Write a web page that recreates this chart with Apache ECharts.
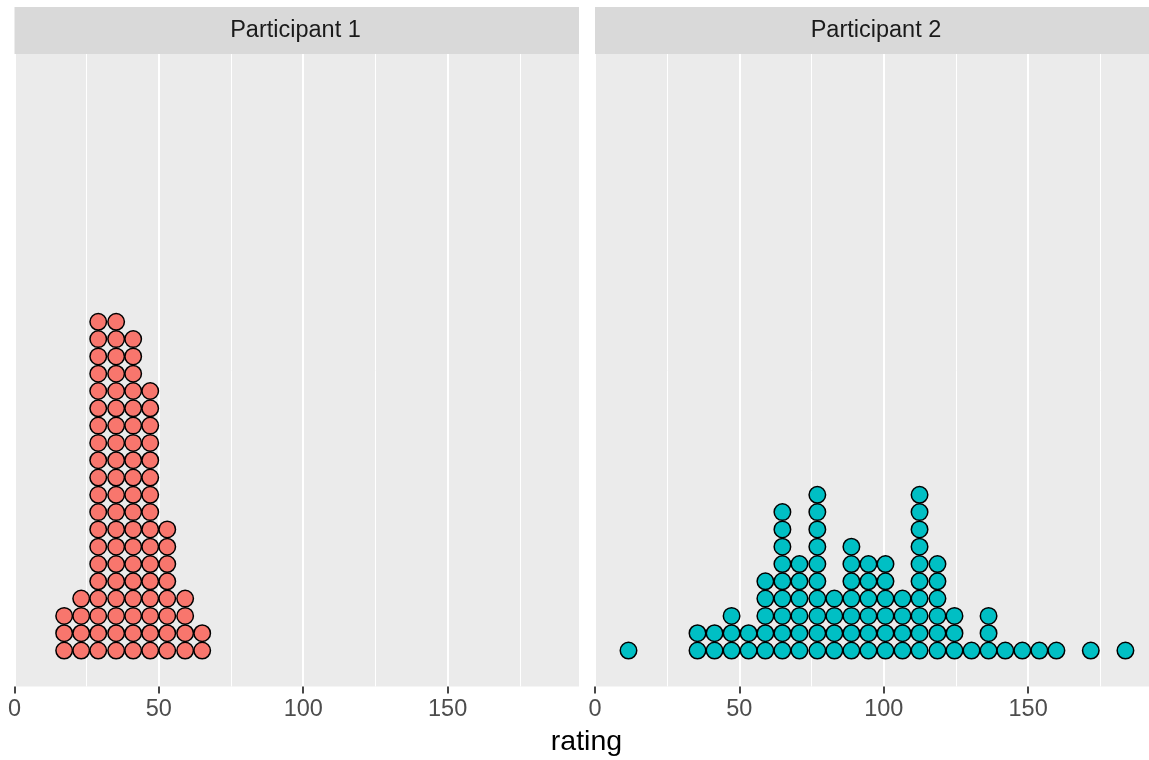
<!DOCTYPE html>
<html>
<head>
<meta charset="utf-8">
<script src="https://cdn.jsdelivr.net/npm/echarts@6/dist/echarts.min.js"></script>
<style>
  html, body { margin: 0; padding: 0; background: #fff; }
  #main { width: 1149px; height: 760px; }
</style>
</head>
<body>
<div id="main"></div>
<script>
    // bin centres (rating) and number of dots stacked in each bin
    var p1Centers = [17.2, 23.1, 29.0, 35.2, 41.1, 47.0, 52.9, 59.1, 65.0];
    var p1Counts  = [3, 4, 20, 20, 19, 16, 8, 4, 2];

    var p2Centers = [11.6, 35.5, 41.4, 47.3, 53.2, 59.0, 64.9, 70.8, 77.0, 82.9, 88.8, 94.7,
                     100.6, 106.5, 112.4, 118.6, 124.5, 130.4, 136.3, 142.1, 148.0, 153.9,
                     159.8, 171.7, 183.7];
    var p2Counts  = [1, 2, 2, 3, 2, 5, 9, 6, 10, 4, 7, 6,
                     6, 4, 10, 6, 3, 1, 3, 1, 1, 1,
                     1, 1, 1];

    var panelNames = ['Participant 1', 'Participant 2'];
    var tickValues = [0, 50, 100, 150];

    function stack(centers, counts) {
        var pts = [];
        for (var i = 0; i < centers.length; i++) {
            for (var k = 0; k < counts[i]; k++) {
                pts.push([centers[i], k]);
            }
        }
        return pts;
    }

    var panelW = 564.5;
    var lefts = [14.5, 595];
    var gridTop = 54, gridH = 632.5;

    function xAx(idx) {
        return {
            type: 'value', gridIndex: idx, min: 0, max: 195.5, interval: 50,
            axisLine: { show: false, onZero: false },
            axisTick: { show: true, length: 7, customValues: tickValues, lineStyle: { color: '#333333', width: 1.8 } },
            axisLabel: {
                color: '#4D4D4D', fontSize: 23.5, margin: 11, fontFamily: 'Liberation Sans',
                customValues: tickValues
            },
            splitLine: { show: true, lineStyle: { color: '#ffffff', width: 2 } },
            minorTick: { show: false, splitNumber: 2 },
            minorSplitLine: { show: true, lineStyle: { color: '#ffffff', width: 1 } }
        };
    }
    function yAx(idx) {
        return { type: 'value', gridIndex: idx, min: -2.08, max: 34.48, show: false };
    }
    function dots(idx, data, color) {
        return {
            type: 'scatter', xAxisIndex: idx, yAxisIndex: idx, data: data,
            symbol: 'circle', symbolSize: 16.5,
            itemStyle: { color: color, borderColor: '#000000', borderWidth: 1.5, opacity: 1 }
        };
    }

    var myChart = echarts.init(document.getElementById('main'));
    var option = {
        animation: false,
        backgroundColor: '#ffffff',
        textStyle: { fontFamily: 'Liberation Sans' },
        grid: [
            { left: lefts[0], top: gridTop, width: panelW, height: gridH, outerBoundsMode: 'none', show: true, backgroundColor: '#EBEBEB', borderWidth: 0 },
            { left: lefts[1], top: gridTop, width: panelW, height: gridH, outerBoundsMode: 'none', show: true, backgroundColor: '#EBEBEB', borderWidth: 0 }
        ],
        xAxis: [xAx(0), xAx(1)],
        yAxis: [yAx(0), yAx(1)],
        series: [
            dots(0, stack(p1Centers, p1Counts), '#F8766D'),
            dots(1, stack(p2Centers, p2Counts), '#00BFC4')
        ],
        graphic: [
            // strips
            { type: 'rect', shape: { x: lefts[0], y: 7, width: panelW, height: 47 }, style: { fill: '#D9D9D9' } },
            { type: 'rect', shape: { x: lefts[1], y: 7, width: panelW, height: 47 }, style: { fill: '#D9D9D9' } },
            { type: 'text', x: 295.5, y: 31, style: { text: panelNames[0], fill: '#1A1A1A', fontSize: 23.5, fontFamily: 'Liberation Sans', textAlign: 'center', textVerticalAlign: 'middle' } },
            { type: 'text', x: 876, y: 31, style: { text: panelNames[1], fill: '#1A1A1A', fontSize: 23.5, fontFamily: 'Liberation Sans', textAlign: 'center', textVerticalAlign: 'middle' } },
            // axis title
            { type: 'text', x: 586.5, y: 742, style: { text: 'rating', fill: '#000000', fontSize: 28.5, fontFamily: 'Liberation Sans', textAlign: 'center', textVerticalAlign: 'middle' } }
        ]
    };
    myChart.setOption(option);
</script>
</body>
</html>
